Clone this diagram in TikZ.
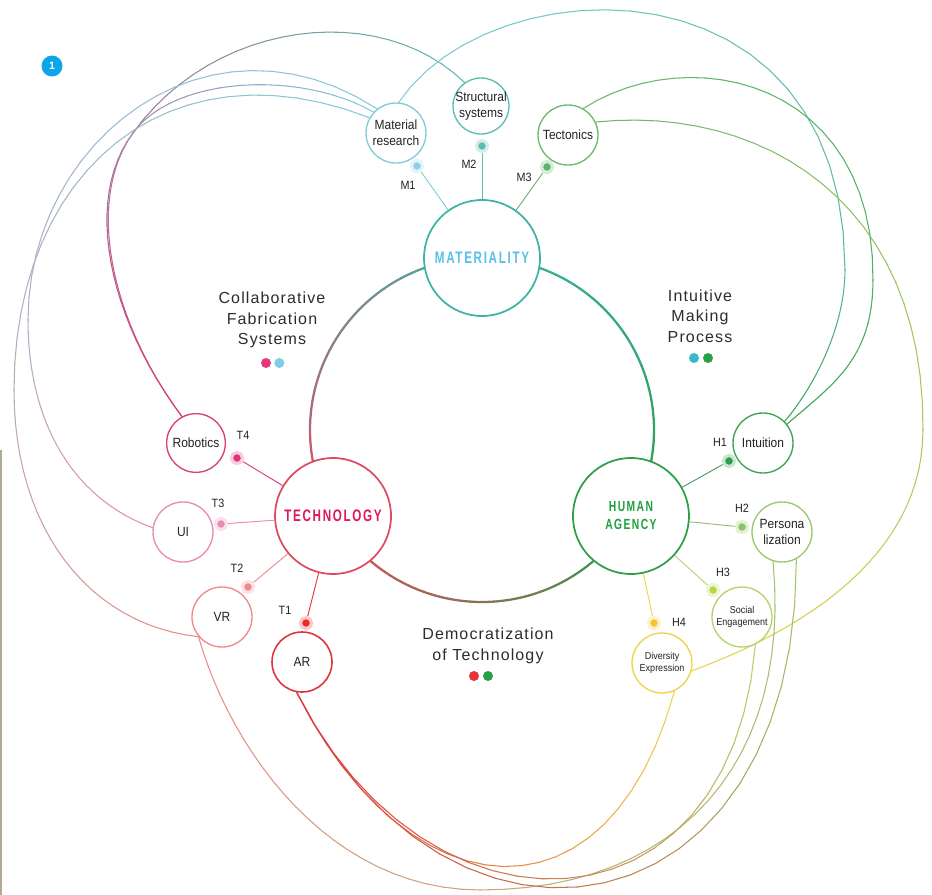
\documentclass[tikz,border=0pt]{standalone}
\usepackage{fontspec}
\setmainfont{Liberation Sans}
\newfontfamily\condfont[FakeStretch=0.9]{Liberation Sans}
\newfontfamily\headfont[FakeStretch=0.7,LetterSpace=10]{Liberation Sans}
\newfontfamily\titlefont[LetterSpace=7]{Liberation Sans}
\usepackage{tikz}
\usetikzlibrary{calc, backgrounds, positioning}

\definecolor{matring}{RGB}{60,178,168}
\definecolor{mattext}{RGB}{88,192,236}
\definecolor{techring}{RGB}{222,74,98}
\definecolor{techtext}{RGB}{226,22,94}
\definecolor{humring}{RGB}{46,158,74}
\definecolor{humtext}{RGB}{30,160,62}
\definecolor{cmatres}{RGB}{130,204,218}
\definecolor{cstruct}{RGB}{90,190,178}
\definecolor{ctecton}{RGB}{106,186,114}
\definecolor{crobot}{RGB}{214,62,124}
\definecolor{cui}{RGB}{232,140,178}
\definecolor{cvr}{RGB}{238,138,138}
\definecolor{car}{RGB}{222,56,62}
\definecolor{cintuit}{RGB}{58,164,82}
\definecolor{cperso}{RGB}{156,200,110}
\definecolor{csocial}{RGB}{182,212,108}
\definecolor{cdivers}{RGB}{236,212,74}
\definecolor{dm1}{RGB}{142,208,230}
\definecolor{dm2}{RGB}{92,188,176}
\definecolor{dm3}{RGB}{92,180,106}
\definecolor{dt4}{RGB}{226,50,122}
\definecolor{dt3}{RGB}{234,141,181}
\definecolor{dt2}{RGB}{238,138,140}
\definecolor{dt1}{RGB}{233,42,46}
\definecolor{dh1}{RGB}{40,157,72}
\definecolor{dh2}{RGB}{141,194,95}
\definecolor{dh3}{RGB}{181,214,66}
\definecolor{dh4}{RGB}{246,197,46}
\definecolor{inkdark}{RGB}{34,34,34}
\definecolor{inktitle}{RGB}{44,44,44}
\definecolor{badgeblue}{RGB}{11,165,232}
\definecolor{stripcol}{RGB}{179,170,150}
\definecolor{tdpink}{RGB}{230,55,124}
\definecolor{tdblue}{RGB}{126,204,230}
\definecolor{tdteal}{RGB}{59,184,200}
\definecolor{tdgreen}{RGB}{40,160,72}
\definecolor{tdred}{RGB}{232,50,56}

% one cubic, cut in short pieces so the colour can run from #5 to #6
\newcommand{\gradcurve}[8]{%
  \foreach \seg in {1,...,24}{%
    \pgfmathsetmacro{\tlo}{(\seg-1)/24}%
    \pgfmathsetmacro{\thi}{\seg/24}%
    \pgfmathsetmacro{\bza}{(1-\tlo)*(1-\tlo)*(1-\tlo)}%
    \pgfmathsetmacro{\bzb}{3*(1-\tlo)*(1-\tlo)*\tlo}%
    \pgfmathsetmacro{\bzc}{3*(1-\tlo)*\tlo*\tlo}%
    \pgfmathsetmacro{\bzd}{\tlo*\tlo*\tlo}%
    \pgfmathsetmacro{\bze}{(1-\thi)*(1-\thi)*(1-\thi)}%
    \pgfmathsetmacro{\bzf}{3*(1-\thi)*(1-\thi)*\thi}%
    \pgfmathsetmacro{\bzg}{3*(1-\thi)*\thi*\thi}%
    \pgfmathsetmacro{\bzh}{\thi*\thi*\thi}%
    \pgfmathsetmacro{\mixpc}{100*(#7+(#8-#7)*(\seg-0.5)/24)}%
    \draw[arcline, color=#6!\mixpc!#5]
      ($\bza*(#1)+\bzb*(#2)+\bzc*(#3)+\bzd*(#4)$) -- ($\bze*(#1)+\bzf*(#2)+\bzg*(#3)+\bzh*(#4)$);
  }%
}

\begin{document}
\begin{tikzpicture}[x=0.75pt,y=0.75pt,yscale=-1,xscale=1,
  hubnode/.style={circle, draw=#1, fill=white, line width=1.3pt, minimum size=87pt, inner sep=0pt, align=center},
  subnode/.style={circle, draw=#1, fill=white, line width=1pt, minimum size=45pt, inner sep=-4pt, align=center, text=inkdark, font=\condfont\fontsize{10}{12}\selectfont},
  smallnode/.style={subnode=#1, font=\condfont\fontsize{7.5}{9.3}\selectfont},
  subdot/.style={circle, fill=#1, draw=#1!25, line width=2.4pt, minimum size=8.4pt, inner sep=0pt},
  dotlabel/.style={font=\condfont\fontsize{9}{10}\selectfont, text=inkdark, inner sep=0pt},
  spoke/.style={line width=0.7pt},
  ringline/.style={line width=1.7pt, line cap=round},
  arcline/.style={line width=0.8pt, line cap=round},
  titletext/.style={font=\titlefont\fontsize{12}{15.4}\selectfont, text=inktitle, align=center},
  titledot/.style={circle, fill=#1, minimum size=7.5pt, inner sep=0pt}
]
\useasboundingbox (0,0) rectangle (932,895);
\coordinate (hub) at (482,430);

%Shape: Rectangle (left edge strip)
\fill[stripcol] (0,450) rectangle (1.8,895);

%Shape: Circle (badge)
\node[circle, fill=badgeblue, minimum size=15.75pt, inner sep=0pt, text=white, font=\bfseries\fontsize{8}{8}\selectfont] (badge) at (52,66) {1};

%Shape: Circle (three hubs on the ring)
\node[hubnode=matring, text=mattext, font=\headfont\bfseries\fontsize{12.5}{14}\selectfont] (mat) at ($(hub)+(270:172)$) {MATERIALITY};
\node[hubnode=techring, text=techtext, font=\headfont\bfseries\fontsize{12.5}{14}\selectfont] (tech) at ($(hub)+(150:172)$) {TECHNOLOGY};
\node[hubnode=humring, text=humtext, font=\headfont\bfseries\fontsize{11}{13.5}\selectfont] (hum) at ($(hub)+(30:172)$) {HUMAN\\AGENCY};

%Shape: Circle (materiality branch)
\node[subnode=cmatres] (matres) at (396,133) {Material\\research};
\node[subnode=cstruct, minimum size=42pt] (struct) at (481,106) {Structural\\systems};
\node[subnode=ctecton] (tecton) at (568,135) {Tectonics};

%Shape: Circle (technology branch)
\node[subnode=crobot, minimum size=44pt] (robot) at (196,443) {Robotics};
\node[subnode=cui] (ui) at (183,532) {UI};
\node[subnode=cvr] (vr) at (222,617) {VR};
\node[subnode=car, line width=1.2pt] (ar) at (302,662) {AR};

%Shape: Circle (human agency branch)
\node[subnode=cintuit] (intuit) at (763,443) {Intuition};
\node[subnode=cperso] (perso) at (782,532) {Persona\\lization};
\node[smallnode=csocial] (social) at (742,617) {Social\\Engagement};
\node[smallnode=cdivers] (divers) at (662,663) {Diversity\\Expression};

%Shape: Circle (small dots)
\node[subdot=dm1] (m1) at (417,166) {};
\node[subdot=dm2] (m2) at (482,146) {};
\node[subdot=dm3] (m3) at (547,167) {};
\node[subdot=dt4] (t4) at (237,458) {};
\node[subdot=dt3] (t3) at (221,524) {};
\node[subdot=dt2] (t2) at (248,587) {};
\node[subdot=dt1] (t1) at (306,623) {};
\node[subdot=dh1] (h1) at (729,461) {};
\node[subdot=dh2] (h2) at (742,527) {};
\node[subdot=dh3] (h3) at (713,590) {};
\node[subdot=dh4] (h4) at (654,623) {};

% Text Node
\node[dotlabel] (m1lab) at (408,185) {M1};
\node[dotlabel] (m2lab) at (469,164) {M2};
\node[dotlabel] (m3lab) at (524,177) {M3};
\node[dotlabel] (t4lab) at (243,435) {T4};
\node[dotlabel] (t3lab) at (218,503) {T3};
\node[dotlabel] (t2lab) at (237,568) {T2};
\node[dotlabel] (t1lab) at (285,610) {T1};
\node[dotlabel] (h1lab) at (720,442) {H1};
\node[dotlabel] (h2lab) at (742,508) {H2};
\node[dotlabel] (h3lab) at (723,572) {H3};
\node[dotlabel] (h4lab) at (679,622) {H4};

% Text Node
\node[titletext] (cfs) at (272,320) {Collaborative\\Fabrication\\Systems};
\node[titledot=tdpink] (cfsa) at (266,363) {};
\node[titledot=tdblue, right=10pt of cfsa.center, anchor=center] (cfsb) {};
\node[titletext] (imp) at (700,316) {Intuitive\\Making\\Process};
\node[titledot=tdteal] (impa) at (694,358) {};
\node[titledot=tdgreen, right=10.5pt of impa.center, anchor=center] (impb) {};
\node[titletext] (demo) at (488,646) {Democratization\\of Technology};
\node[titledot=tdred] (demoa) at (474,676) {};
\node[titledot=tdgreen, right=10.5pt of demoa.center, anchor=center] (demob) {};

\begin{scope}[on background layer]
%Curve Lines (the ring, three coloured arcs)
\foreach \i in {0,...,29}{
  \pgfmathsetmacro{\angA}{150+4*\i}
  \pgfmathsetmacro{\mixpc}{100*(\i+0.5)/30}
  \draw[ringline, color=matring!\mixpc!techring] ($(hub)+(\angA:172)$) arc[start angle=\angA, end angle=\angA+4, radius=172];
}
\foreach \i in {0,...,29}{
  \pgfmathsetmacro{\angA}{30+4*\i}
  \pgfmathsetmacro{\mixpc}{100*(\i+0.5)/30}
  \draw[ringline, color=techring!\mixpc!humring] ($(hub)+(\angA:172)$) arc[start angle=\angA, end angle=\angA+4, radius=172];
}
\foreach \i in {0,...,29}{
  \pgfmathsetmacro{\angA}{-90+4*\i}
  \pgfmathsetmacro{\mixpc}{100*(\i+0.5)/30}
  \draw[ringline, color=humring!\mixpc!matring] ($(hub)+(\angA:172)$) arc[start angle=\angA, end angle=\angA+4, radius=172];
}

%Straight Lines (spokes)
\draw[spoke, cmatres] (mat) -- (m1);
\draw[spoke, cstruct] (mat) -- (m2);
\draw[spoke, ctecton!80!gray] (mat) -- (m3);
\draw[spoke, crobot] (tech) -- (t4);
\draw[spoke, cui] (tech) -- (t3);
\draw[spoke, cvr] (tech) -- (t2);
\draw[spoke, car] (tech) -- (t1);
\draw[spoke, cintuit!70!gray] (hum) -- (h1);
\draw[spoke, cperso!85!gray] (hum) -- (h2);
\draw[spoke, csocial] (hum) -- (h3);
\draw[spoke, cdivers] (hum) -- (h4);

%Curve Lines (long links)
\gradcurve{robot.118}{108,318}{83,199}{133,133}{crobot}{cstruct}{0}{0.5}
\gradcurve{133,133}{214,20}{380,0}{struct.125}{crobot}{cstruct}{0.5}{1}
\gradcurve{robot.118}{110,320}{85,200}{133,133}{crobot}{cmatres}{0}{0.5}
\gradcurve{133,133}{174,76}{300,70}{matres.137}{crobot}{cmatres}{0.5}{1}
\gradcurve{ui.172}{75,500}{28,425}{28,320}{cui}{cmatres}{0}{0.5}
\gradcurve{28,320}{28,140}{209,0}{matres.128}{cui}{cmatres}{0.5}{1}
\gradcurve{vr.220}{90,625}{14,530}{14,390}{cvr}{cmatres}{0}{0.5}
\gradcurve{14,390}{14,170}{170,40}{matres.150}{cvr}{cmatres}{0.5}{1}
\gradcurve{matres.85}{490,-35}{845,-50}{845,270}{cmatres}{cintuit}{0}{0.5}
\gradcurve{845,270}{845,330}{811,391}{intuit.45}{cmatres}{cintuit}{0.5}{1}
\gradcurve{tecton.60}{690,40}{875,80}{873,280}{ctecton}{cintuit}{0}{0.5}
\gradcurve{873,280}{873,360}{831.6,385}{intuit.38}{ctecton}{cintuit}{0.5}{1}
\gradcurve{tecton.25}{760,105}{925,200}{923,430}{ctecton}{cdivers}{0}{0.5}
\gradcurve{923,430}{923,540}{830,620}{divers.345}{ctecton}{cdivers}{0.5}{1}
\gradcurve{vr.220}{231,751}{330,890}{480,890}{cvr}{cperso}{0}{0.5}
\gradcurve{480,890}{680,890}{792,760}{perso.253}{cvr}{cperso}{0.5}{1}
\gradcurve{ar.260}{450,998}{797,939}{perso.298}{car}{cperso}{0}{1}
\gradcurve{ar.260}{409.5,917}{609,932.5}{divers.294}{car}{cdivers}{0}{1}
\gradcurve{ar.260}{427.5,953}{731,944}{social.296}{car}{csocial}{0}{1}
\end{scope}
\end{tikzpicture}
\end{document}
